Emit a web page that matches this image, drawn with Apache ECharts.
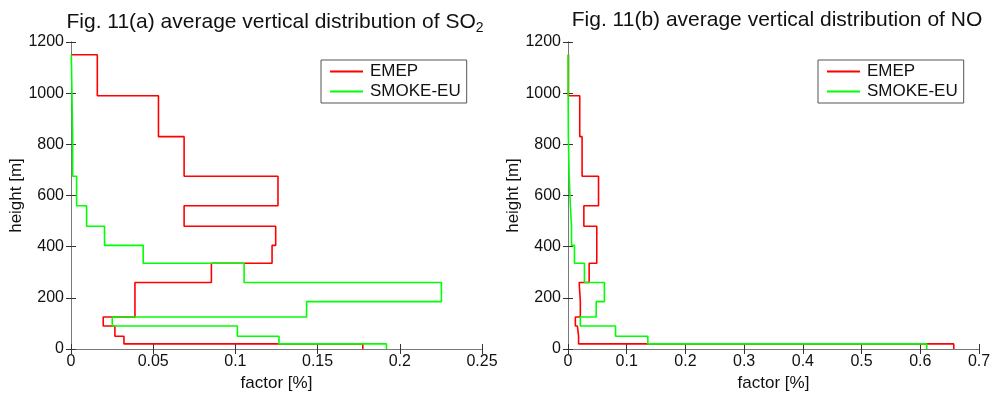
<!DOCTYPE html>
<html>
<head>
<meta charset="utf-8">
<script src="https://cdn.jsdelivr.net/npm/echarts@6/dist/echarts.min.js"></script>
<style>
  html, body { margin: 0; padding: 0; background: #fff; }
  #main { width: 997px; height: 397px; }
</style>
</head>
<body>
<div id="main"></div>
<script>
// layer boundaries (m) - each value below belongs to [h[i], h[i+1]]
var heights = [0, 20, 50, 90, 125, 185, 260, 335, 405, 480, 560, 675, 830, 990, 1150];

// SO2 factors
var emepSO2  = [0.1775, 0.0322, 0.0267, 0.0196, 0.0389, 0.0389, 0.0854, 0.1223, 0.1245, 0.0688, 0.1259, 0.0688, 0.0532, 0.0160];
var smokeSO2 = [0.1919, 0.1265, 0.1012, 0.0251, 0.1433, 0.2253, 0.1053, 0.0439, 0.0204, 0.0095, 0.0034, 0.0010, 0.0006, 0.0002];

// NO factors
var emepNO  = [0.657, 0.018, 0.016, 0.0125, 0.021, 0.019, 0.036, 0.049, 0.049, 0.027, 0.052, 0.024, 0.020, 0.0008];
var smokeNO = [0.611, 0.136, 0.081, 0.021, 0.048, 0.062, 0.028, 0.011, 0.006, 0.004, 0.002, 0.0006, 0.0003, 0.0001];

var yTicks = [0, 1200, 200];   // min, max, interval
var xTicksSO2 = [0, 0.25, 0.05];
var xTicksNO = [0, 0.7, 0.1];

// turn layer values into stairs points [x, y]
function stairs(vals) {
    var pts = [];
    for (var i = 0; i < vals.length; i++) {
        pts.push([vals[i], heights[i]]);
        pts.push([vals[i], heights[i + 1]]);
    }
    pts.push([0, heights[heights.length - 1]]);
    return pts;
}

var font = 'Liberation Sans, Arial, sans-serif';
var axisCol = '#7a7a7a';
var txtCol = '#111';
var plain = function (v) { return String(v); };

function xAxisPair(idx, t) {
    return [{
        gridIndex: idx, type: 'value', position: 'bottom',
        min: t[0], max: t[1], interval: t[2],
        name: 'factor [%]', nameLocation: 'middle', nameGap: 26,
        nameTextStyle: { fontFamily: font, fontSize: 17, color: txtCol },
        axisLine: { lineStyle: { color: axisCol, width: 1 } },
        axisTick: { inside: true, length: 5, lineStyle: { color: '#333' } },
        axisLabel: { fontFamily: font, fontSize: 16, color: txtCol, margin: 5, formatter: plain },
        splitLine: { show: false }
    }, {
        gridIndex: idx, type: 'value', position: 'top',
        min: t[0], max: t[1], interval: t[2],
        axisLine: { lineStyle: { color: axisCol, width: 1 } },
        axisTick: { inside: true, length: 5, lineStyle: { color: '#333' } },
        axisLabel: { show: false },
        splitLine: { show: false }
    }];
}

function yAxisPair(idx) {
    return [{
        gridIndex: idx, type: 'value', position: 'left',
        min: yTicks[0], max: yTicks[1], interval: yTicks[2],
        name: 'height [m]', nameLocation: 'middle', nameGap: 43, nameRotate: 90,
        nameTextStyle: { fontFamily: font, fontSize: 17, color: txtCol },
        axisLine: { show: true, lineStyle: { color: axisCol, width: 1 } },
        axisTick: { show: true, inside: true, length: 5, lineStyle: { color: '#333' } },
        axisLabel: { fontFamily: font, fontSize: 16, color: txtCol, margin: 7, formatter: plain },
        splitLine: { show: false }
    }, {
        gridIndex: idx, type: 'value', position: 'right',
        min: yTicks[0], max: yTicks[1], interval: yTicks[2],
        axisLine: { show: true, lineStyle: { color: axisCol, width: 1 } },
        axisTick: { show: true, inside: true, length: 5, lineStyle: { color: '#333' } },
        axisLabel: { show: false },
        splitLine: { show: false }
    }];
}

function stepSeries(name, color, xi, yi, vals) {
    return {
        name: name, type: 'line', xAxisIndex: xi, yAxisIndex: yi,
        data: stairs(vals), symbol: 'none', animation: false,
        lineStyle: { color: color, width: 1.6 },
        itemStyle: { color: color }
    };
}

function legendBox(left) {
    return {
        data: ['EMEP', 'SMOKE-EU'], orient: 'vertical', left: left, top: 60,
        icon: 'rect', itemWidth: 33, itemHeight: 2,
        backgroundColor: '#fff', borderColor: '#555', borderWidth: 1,
        padding: [3, 6, 3, 9], itemGap: 3,
        textStyle: { fontFamily: font, fontSize: 17, color: txtCol, padding: [0, 0, 0, 2] }
    };
}

var myChart = echarts.init(document.getElementById('main'));
myChart.setOption({
    backgroundColor: '#fff',
    animation: false,
    title: [{
        text: '{a|Fig. 11(a) average vertical distribution of SO}{s|2}',
        left: 270, top: 5, textAlign: 'center',
        textStyle: { fontWeight: 'normal', rich: {
            a: { fontFamily: font, fontSize: 21, fontWeight: 'normal', color: txtCol },
            s: { fontFamily: font, fontSize: 14, fontWeight: 'normal', color: txtCol, padding: [11, 0, 0, 0] }
        } }
    }, {
        text: 'Fig. 11(b) average vertical distribution of NO',
        left: 772, top: 5, textAlign: 'center',
        textStyle: { fontFamily: font, fontSize: 21, fontWeight: 'normal', color: txtCol }
    }],
    legend: [legendBox(321), legendBox(818)],
    grid: [
        { left: 71, top: 42, width: 411, height: 313 },
        { left: 568, top: 42, width: 411, height: 313 }
    ],
    xAxis: xAxisPair(0, xTicksSO2).concat(xAxisPair(1, xTicksNO)),
    yAxis: yAxisPair(0).concat(yAxisPair(1)),
    series: [
        stepSeries('EMEP', '#ff0000', 0, 0, emepSO2),
        stepSeries('SMOKE-EU', '#00ff00', 0, 0, smokeSO2),
        stepSeries('EMEP', '#ff0000', 2, 2, emepNO),
        stepSeries('SMOKE-EU', '#00ff00', 2, 2, smokeNO)
    ]
});
</script>
</body>
</html>
